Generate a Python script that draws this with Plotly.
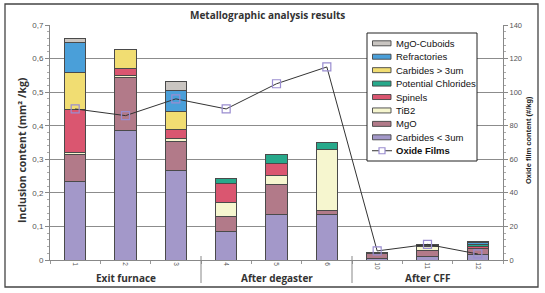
import plotly.graph_objects as go

# ---------------- data ----------------
categories = ["1", "2", "3", "4", "5", "6", "10", "11", "12"]
groups = ["Exit furnace", "After degaster", "After CFF"]
group_center_index = [1, 4, 7]

carbides_small = [0.234, 0.387, 0.266, 0.086, 0.136, 0.137, 0.004, 0.011, 0.017]
mgo = [0.079, 0.157, 0.086, 0.043, 0.090, 0.009, 0.016, 0.018, 0.017]
tib2 = [0.008, 0.006, 0.010, 0.042, 0.025, 0.183, None, 0.010, None]
spinels = [0.128, 0.021, 0.027, 0.057, 0.035, None, 0.002, None, 0.005]
chlorides = [None, None, None, 0.015, 0.027, 0.020, None, 0.005, 0.006]
carbides_large = [0.111, 0.055, 0.054, None, None, None, None, None, None]
refractories = [0.087, None, 0.061, None, None, None, None, 0.003, 0.008]
mgo_cuboids = [0.012, None, 0.029, None, None, None, None, None, 0.003]
oxide_films = [90, 86, 96, 90, 105, 115, 5.4, 9.3, 3.6]

# stacking order bottom -> top
series = [
    ("Carbides < 3um", carbides_small, "#A398C9"),
    ("MgO", mgo, "#B27A89"),
    ("TiB2", tib2, "#F6F6CF"),
    ("Spinels", spinels, "#DA5670"),
    ("Potential Chlorides", chlorides, "#27A98B"),
    ("Carbides > 3um", carbides_large, "#F1DD72"),
    ("Refractories", refractories, "#4A9FD9"),
    ("MgO-Cuboids", mgo_cuboids, "#C9C5C1"),
]
oxide_name = "Oxide Films"
oxide_color = "#9A8DD0"

W, H = 545, 293
L, R, T, B = 50, 42, 25, 33
PW, PH = W - L - R, H - T - B


def px(x):
    return (x - L) / PW


def py(y):
    return (H - B - y) / PH


fig = go.Figure()

for name, vals, col in series:
    fig.add_trace(go.Bar(
        x=categories, y=vals, name=name, width=0.42,
        marker=dict(color=col, line=dict(color="#4A4A4A", width=1)),
        showlegend=False,
    ))

fig.add_trace(go.Scatter(
    x=categories, y=oxide_films, name=oxide_name, yaxis="y2",
    mode="lines+markers",
    line=dict(color="#333333", width=1),
    marker=dict(symbol="square-open", size=8, color=oxide_color,
                line=dict(width=1.2, color=oxide_color)),
    showlegend=False,
))

shapes = []
annotations = []

# outer frame
shapes.append(dict(type="rect", xref="paper", yref="paper",
                   x0=px(5), x1=px(538), y0=py(287), y1=py(4),
                   line=dict(color="#444444", width=1.3), fillcolor="rgba(0,0,0,0)"))

# group separators
for xb in [2.5, 5.5]:
    shapes.append(dict(type="line", xref="x", yref="paper",
                       x0=xb, x1=xb, y0=py(283), y1=py(256),
                       line=dict(color="#888888", width=1)))

# group labels
for g, c in zip(groups, group_center_index):
    annotations.append(dict(text="<b>%s</b>" % g, xref="x", yref="paper",
                            x=c, y=py(278), showarrow=False,
                            font=dict(family="Open Sans", size=10, color="#333333"),
                            xanchor="center", yanchor="middle"))

# title
annotations.append(dict(text="<b>Metallographic analysis results</b>", xref="paper", yref="paper",
                        x=px(267), y=py(15), showarrow=False,
                        font=dict(family="Open Sans", size=10, color="#333333"),
                        xanchor="center", yanchor="middle"))

# axis titles
annotations.append(dict(text="<b>Inclusion content (mm² /kg)</b>", xref="paper", yref="paper",
                        x=px(22), y=py(150), showarrow=False, textangle=-90,
                        font=dict(family="Open Sans", size=10.5, color="#333333"),
                        xanchor="center", yanchor="middle"))
annotations.append(dict(text="<b>Oxide film content (#/kg)</b>", xref="paper", yref="paper",
                        x=px(528), y=py(140), showarrow=False, textangle=-90,
                        font=dict(family="Liberation Sans", size=7.5, color="#222222"),
                        xanchor="center", yanchor="middle"))

# legend (drawn compactly)
lx0, lx1, ly0, ly1 = 367, 477, 33, 161
shapes.append(dict(type="rect", xref="paper", yref="paper",
                   x0=px(lx0), x1=px(lx1), y0=py(ly1), y1=py(ly0),
                   line=dict(color="#222222", width=1), fillcolor="white", layer="above"))
legend_items = list(reversed(series)) + [(oxide_name, None, oxide_color)]
y_first, step = 43.3, 13.43
for i, (name, _, col) in enumerate(legend_items):
    yc = y_first + i * step
    if name == oxide_name:
        shapes.append(dict(type="line", xref="paper", yref="paper",
                           x0=px(372), x1=px(392), y0=py(yc), y1=py(yc),
                           line=dict(color="#333333", width=1), layer="above"))
        shapes.append(dict(type="rect", xref="paper", yref="paper",
                           x0=px(379), x1=px(385), y0=py(yc + 3), y1=py(yc - 3),
                           line=dict(color=oxide_color, width=1.2), fillcolor="white", layer="above"))
        label = "<b>%s</b>" % name
    else:
        shapes.append(dict(type="rect", xref="paper", yref="paper",
                           x0=px(372.5), x1=px(391), y0=py(yc + 2.5), y1=py(yc - 2.5),
                           line=dict(color="#444444", width=0.9), fillcolor=col, layer="above"))
        label = name
    annotations.append(dict(text=label, xref="paper", yref="paper",
                            x=px(393.5), y=py(yc), showarrow=False,
                            font=dict(family="Liberation Sans", size=9.5, color="#111111"),
                            xanchor="left", yanchor="middle"))

fig.update_layout(
    width=W, height=H,
    margin=dict(l=L, r=R, t=T, b=B, pad=0, autoexpand=False),
    barmode="stack",
    separators=", ",
    paper_bgcolor="white", plot_bgcolor="white",
    shapes=shapes, annotations=annotations,
    showlegend=False,
    hovermode=False,
    xaxis=dict(
        type="category", categoryorder="array", categoryarray=categories,
        tickson="boundaries", ticks="outside", ticklen=3, tickcolor="#999999",
        tickangle=90, tickfont=dict(family="Liberation Sans", size=6.5, color="#555555"),
        showgrid=False, showline=True, linecolor="#888888", linewidth=1,
        range=[-0.5, 8.5], zeroline=False, automargin=False,
    ),
    yaxis=dict(
        range=[0, 0.7], dtick=0.1, tick0=0,
        showgrid=True, gridcolor="#8C8C8C", gridwidth=1,
        ticks="outside", ticklen=4, tickcolor="#888888",
        minor=dict(dtick=0.02, ticks="outside", ticklen=2, tickcolor="#AAAAAA", showgrid=False),
        showline=True, linecolor="#888888", linewidth=1,
        tickfont=dict(family="Liberation Sans", size=8, color="#555555"),
        zeroline=False, automargin=False,
    ),
    yaxis2=dict(
        overlaying="y", side="right", range=[0, 140], dtick=20, tick0=0,
        showgrid=False, ticks="outside", ticklen=4, tickcolor="#888888",
        minor=dict(dtick=4, ticks="outside", ticklen=2, tickcolor="#AAAAAA"),
        showline=True, linecolor="#888888", linewidth=1,
        tickfont=dict(family="Liberation Sans", size=7.5, color="#555555"),
        zeroline=False, automargin=False,
    ),
)

fig.write_html("out.html", config={"displayModeBar": False, "staticPlot": True},
               post_script="document.body.style.margin='0';document.body.style.overflow='hidden';")
